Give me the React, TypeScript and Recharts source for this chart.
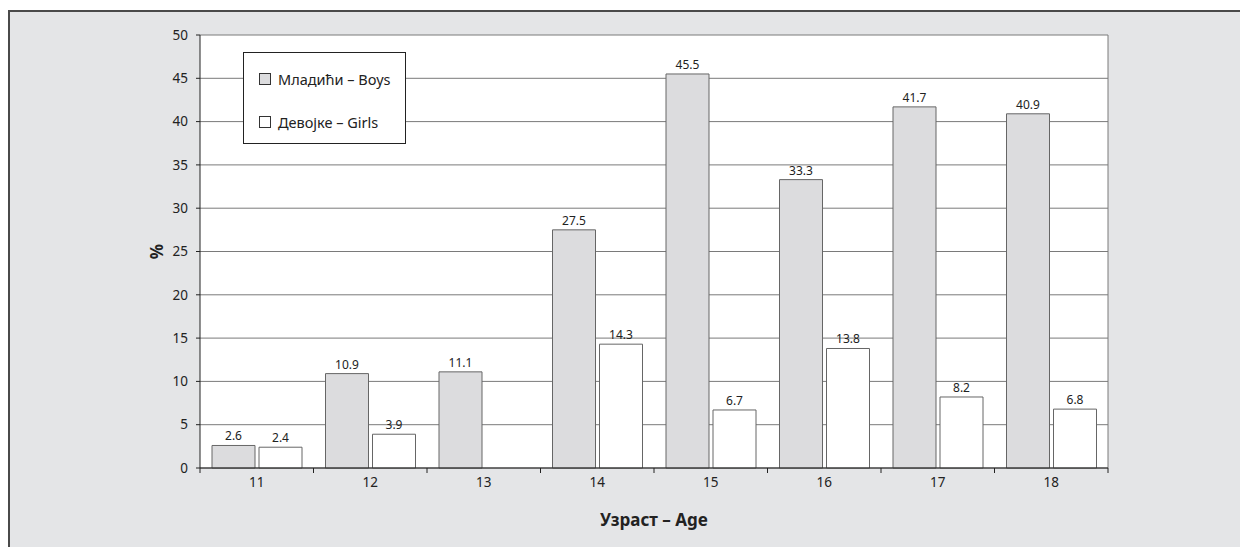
import { BarChart, Bar, XAxis, YAxis, CartesianGrid, Legend, LabelList } from 'recharts'

const ages = ['11', '12', '13', '14', '15', '16', '17', '18']
const boys = [2.6, 10.9, 11.1, 27.5, 45.5, 33.3, 41.7, 40.9]
const girls: (number | null)[] = [2.4, 3.9, null, 14.3, 6.7, 13.8, 8.2, 6.8]
const yTicks = [0, 5, 10, 15, 20, 25, 30, 35, 40, 45, 50]

const data = ages.map((age, i) => ({ age, boys: boys[i], girls: girls[i] }))

const FONT = '"Noto Sans", sans-serif'
const W = 1230
const H = 535
const MARGIN = { top: 23, right: 132, bottom: 9, left: 137 }
const BAND = (W - MARGIN.left - 53 - MARGIN.right) / ages.length

// category ticks: label in the middle, tick marks on the band edges
function AgeTick(props: any) {
  const { x, y, payload, index } = props
  return (
    <g>
      <line x1={x - BAND / 2} x2={x - BAND / 2} y1={y} y2={y + 5} stroke="#222" />
      {index === ages.length - 1 && (
        <line x1={x + BAND / 2} x2={x + BAND / 2} y1={y} y2={y + 5} stroke="#222" />
      )}
      <text x={x} y={y + 19} textAnchor="middle" fontSize={13.5} fill="#222" fontFamily={FONT}>
        {payload.value}
      </text>
    </g>
  )
}

function LegendBox() {
  const items = [
    { label: 'Младићи – Boys', fill: '#dcdcde' },
    { label: 'Девојке – Girls', fill: '#ffffff' },
  ]
  return (
    <div
      style={{
        width: 163,
        height: 92,
        boxSizing: 'border-box',
        border: '1px solid #222',
        background: '#fff',
        padding: '18px 0 0 15px',
        fontFamily: FONT,
        fontSize: 14.5,
        color: '#222',
      }}
    >
      {items.map((it, i) => (
        <div key={i} style={{ display: 'flex', alignItems: 'center', height: 16, marginBottom: i === 0 ? 27 : 0 }}>
          <span
            style={{
              width: 12,
              height: 12,
              boxSizing: 'border-box',
              border: '1px solid #333',
              background: it.fill,
              marginRight: 7,
            }}
          />
          <span>{it.label}</span>
        </div>
      ))}
    </div>
  )
}

export default function App() {
  return (
    <div
      style={{
        position: 'absolute',
        left: 8,
        top: 10,
        width: W,
        height: H,
        background: '#e4e5e7',
        borderTop: '2px solid #4a4a4a',
        borderLeft: '2px solid #4a4a4a',
      }}
    >
      <BarChart
        width={W}
        height={H}
        data={data}
        margin={MARGIN}
        barCategoryGap={12}
        barGap={4}
        style={{ fontFamily: FONT }}
      >
        <CartesianGrid
          fill="#fff"
          stroke="#7a7a7a"
          verticalCoordinatesGenerator={({ offset }: any) => [offset.left + offset.width]}
        />
        <XAxis
          dataKey="age"
          height={70}
          tickLine={false}
          tickSize={0}
          tickMargin={0}
          axisLine={{ stroke: '#222' }}
          tick={<AgeTick />}
          interval={0}
          label={{
            value: 'Узраст – Age',
            position: 'insideBottom',
            offset: 12,
            style: { fontSize: 17, fontWeight: 700, fill: '#222', fontFamily: FONT },
          }}
        />
        <YAxis
          width={53}
          domain={[0, 50]}
          ticks={yTicks}
          interval={0}
          tickSize={4}
          tickMargin={8}
          axisLine={{ stroke: '#222' }}
          tickLine={{ stroke: '#222' }}
          tick={{ fontSize: 13.5, fill: '#222', fontFamily: FONT }}
          label={{
            value: '%',
            angle: -90,
            position: 'insideLeft',
            offset: 10,
            style: { fontSize: 17, fontWeight: 700, fill: '#222', fontFamily: FONT, textAnchor: 'middle' },
          }}
        />
        <Legend
          layout="vertical"
          align="center"
          verticalAlign="middle"
          content={<LegendBox />}
          wrapperStyle={{ left: 233, top: 40, width: 163, height: 92 }}
        />
        <Bar dataKey="boys" fill="#dcdcde" stroke="#666" isAnimationActive={false}>
          <LabelList dataKey="boys" position="top" offset={5} fontSize={12} fill="#222" fontFamily={FONT} />
        </Bar>
        <Bar dataKey="girls" fill="#fff" stroke="#666" isAnimationActive={false}>
          <LabelList dataKey="girls" position="top" offset={5} fontSize={12} fill="#222" fontFamily={FONT} />
        </Bar>
      </BarChart>
    </div>
  )
}
